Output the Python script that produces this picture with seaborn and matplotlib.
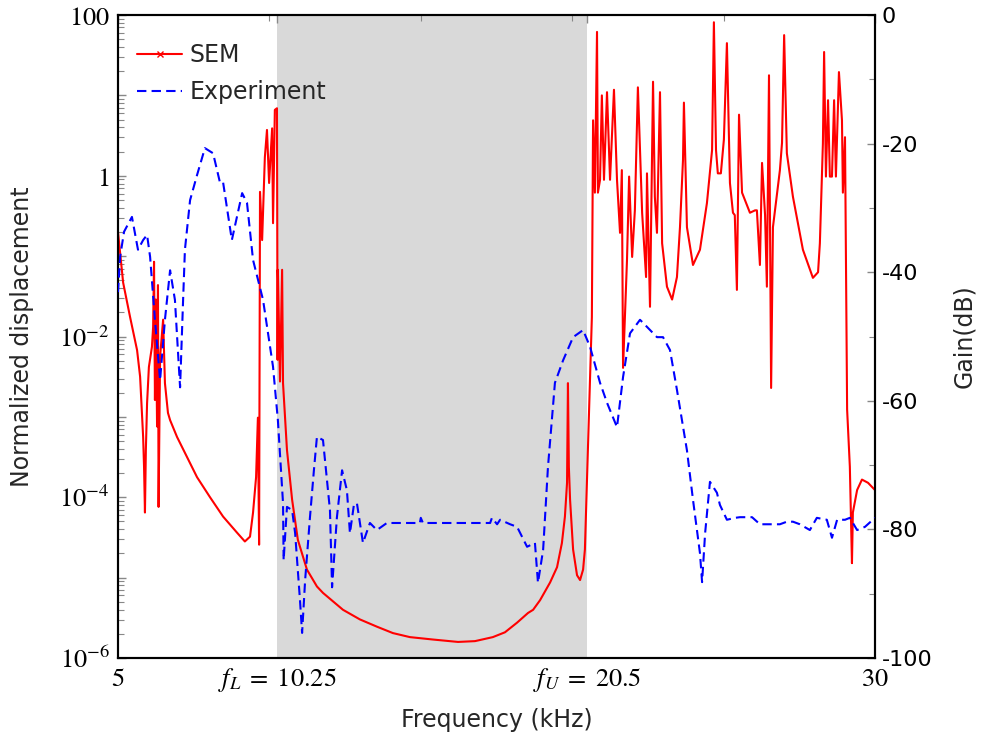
#!/usr/bin/env python3
"""
SEM vs experiment transmission: normalized displacement and gain across frequency
"""

import numpy as np
import pandas as pd
import matplotlib
matplotlib.use('Agg')
import matplotlib.pyplot as plt
import matplotlib.ticker as mticker
from matplotlib.lines import Line2D
import seaborn as sns

# SEM response (kHz, log10 of normalized displacement)
sem_freq = [5.00, 5.17, 5.40, 5.63, 5.73, 5.83, 5.86, 5.89, 5.92, 5.96, 6.02, 6.12, 6.16, 6.19,
            6.22, 6.25, 6.29, 6.32, 6.34, 6.39, 6.49, 6.55, 6.65, 6.72, 6.95, 7.28, 7.61, 8.04,
            8.47, 8.93, 9.19, 9.36, 9.46, 9.56, 9.62, 9.66, 9.69, 9.76, 9.85, 9.92, 9.99, 10.09,
            10.12, 10.18, 10.25, 10.27, 10.28, 10.35, 10.42, 10.45, 10.58, 10.75, 10.94, 11.24,
            11.57, 11.77, 12.43, 12.99, 13.55, 14.08, 14.64, 15.40, 16.23, 16.79, 17.38, 17.78,
            18.18, 18.54, 18.71, 18.94, 19.27, 19.50, 19.66, 19.76, 19.83, 19.86, 19.89, 19.93,
            20.03, 20.16, 20.26, 20.36, 20.42, 20.52, 20.65, 20.69, 20.75, 20.82, 20.85, 20.92,
            20.98, 21.05, 21.15, 21.25, 21.38, 21.48, 21.58, 21.64, 21.68, 21.81, 21.88, 21.98,
            22.07, 22.17, 22.31, 22.44, 22.47, 22.57, 22.67, 22.73, 22.80, 22.90, 22.97, 23.13,
            23.30, 23.46, 23.56, 23.66, 23.69, 23.79, 23.99, 24.22, 24.45, 24.62, 24.68, 24.75,
            24.81, 24.91, 25.01, 25.11, 25.21, 25.31, 25.37, 25.44, 25.51, 25.61, 25.87, 26.04,
            26.10, 26.20, 26.27, 26.37, 26.43, 26.50, 26.57, 26.63, 26.86, 26.93, 27.00, 27.09,
            27.29, 27.62, 27.95, 28.12, 28.18, 28.28, 28.32, 28.38, 28.45, 28.51, 28.58, 28.65,
            28.71, 28.81, 28.91, 28.94, 29.01, 29.08, 29.17, 29.24, 29.27, 29.41, 29.57, 29.77,
            30.00]
sem_log = [-0.70, -1.33, -1.76, -2.17, -2.50, -3.25, -3.62, -4.19, -3.41, -2.83, -2.38, -2.13,
           -1.88, -1.07, -2.79, -1.54, -3.12, -1.36, -4.12, -2.25, -1.79, -2.58, -2.95, -3.04,
           -3.25, -3.50, -3.75, -4.00, -4.24, -4.44, -4.55, -4.49, -4.19, -3.75, -3.01, -4.59,
           -0.20, -0.80, 0.23, 0.57, -0.09, 0.59, -0.59, 0.82, 0.84, -2.29, -1.17, -2.56, -1.17,
           -2.58, -3.41, -4.03, -4.53, -4.90, -5.11, -5.19, -5.40, -5.52, -5.61, -5.69, -5.74,
           -5.77, -5.80, -5.79, -5.74, -5.68, -5.56, -5.44, -5.40, -5.28, -5.06, -4.87, -4.57,
           -4.24, -3.82, -2.58, -3.62, -4.03, -4.65, -4.97, -5.03, -4.90, -4.65, -3.41, -1.76,
           0.69, -0.21, 1.79, -0.21, -0.05, 1.00, -0.05, 1.04, -0.05, 1.07, -0.05, -0.71, 0.07,
           -2.39, -1.05, -0.01, -1.01, -0.43, 1.10, -0.46, -1.26, 0.03, -1.63, 1.17, -0.26,
           -0.71, 1.04, -0.84, -1.38, -1.54, -1.26, -0.64, 0.20, 0.91, -0.64, -1.11, -0.92,
           -0.34, 0.32, 1.91, 0.32, 0.03, 0.03, 0.45, 1.65, -0.09, -0.46, -0.49, -1.42, 0.76,
           -0.21, -0.46, -0.43, -0.43, -1.11, 0.16, -0.49, -1.38, 1.25, -2.64, -0.64, 0.07,
           0.41, 1.75, 0.28, -0.26, -0.92, -1.27, -1.20, -0.84, 0.40, 1.54, -0.01, 0.94, -0.01,
           -0.01, 0.94, -0.01, 1.29, 0.69, -0.21, 0.48, -2.91, -3.62, -4.82, -4.19, -3.91,
           -3.78, -3.82, -3.91]

# Experiment (kHz, gain in dB)
exp_freq = [5.00, 5.07, 5.20, 5.46, 5.66, 5.83, 5.96, 6.06, 6.22, 6.39, 6.55, 6.72, 6.88, 7.05,
            7.15, 7.21, 7.38, 7.61, 7.87, 8.14, 8.37, 8.47, 8.76, 9.10, 9.26, 9.46, 9.79, 10.12,
            10.28, 10.45, 10.47, 10.58, 10.75, 10.85, 11.01, 11.08, 11.18, 11.34, 11.47, 11.57,
            11.77, 12.00, 12.07, 12.23, 12.40, 12.56, 12.66, 12.79, 12.89, 13.09, 13.32, 13.55,
            13.88, 14.97, 15.00, 15.07, 17.29, 17.35, 17.52, 17.62, 17.95, 18.18, 18.51, 18.77,
            18.87, 19.04, 19.20, 19.43, 19.70, 20.03, 20.36, 20.59, 20.92, 21.15, 21.48, 21.68,
            21.91, 22.24, 22.47, 22.80, 23.00, 23.23, 23.46, 23.79, 23.99, 24.22, 24.29, 24.39,
            24.55, 24.78, 24.88, 25.11, 25.38, 25.54, 25.94, 26.20, 26.86, 27.09, 27.29, 27.52,
            27.85, 28.08, 28.41, 28.58, 28.75, 29.01, 29.17, 29.41, 29.67, 30.00]
exp_db = [-43.1, -37.6, -33.7, -31.4, -36.5, -35.0, -34.2, -37.6, -47.4, -56.8, -47.4, -39.7,
          -44.3, -57.9, -44.3, -36.5, -28.8, -24.9, -20.7, -21.5, -26.1, -26.0, -35.0, -27.7,
          -29.2, -38.1, -44.3, -54.7, -63.0, -75.9, -84.8, -76.5, -77.0, -80.6, -91.0, -96.1,
          -87.9, -78.1, -70.8, -65.6, -66.1, -77.0, -89.0, -78.1, -70.8, -73.9, -80.6, -76.2,
          -75.9, -82.1, -79.0, -80.1, -79.0, -79.0, -78.2, -79.0, -79.0, -78.2, -79.2, -78.5,
          -79.2, -79.6, -82.7, -82.1, -88.3, -83.2, -70.3, -57.2, -53.7, -50.1, -49.0, -51.6,
          -57.2, -60.3, -64.1, -56.3, -49.5, -47.4, -48.5, -50.1, -50.1, -52.1, -58.3, -67.7,
          -75.4, -83.7, -88.2, -80.6, -72.6, -74.3, -76.2, -78.5, -78.2, -78.1, -78.1, -79.2,
          -79.2, -78.8, -78.8, -79.2, -80.1, -78.2, -78.5, -81.3, -78.5, -78.5, -78.2, -80.1,
          -79.6, -78.2]

f_lower, f_upper = 10.25, 20.5

sem = pd.DataFrame({'freq': sem_freq, 'disp': 10.0 ** np.array(sem_log)})
exp = pd.DataFrame({'freq': exp_freq, 'gain': exp_db})

sns.set_theme(style='white')
plt.rcParams['font.family'] = ['DejaVu Sans']
plt.rcParams['mathtext.fontset'] = 'stix'

fig = plt.figure(figsize=(9.85, 7.4), dpi=100)
ax = fig.add_axes([0.1198, 0.1108, 0.7685, 0.8689])
ax2 = ax.twinx()

# Band gap shading
ax.axvspan(f_lower, f_upper, color='#d9d9d9', zorder=0, lw=0)

sns.lineplot(data=sem, x='freq', y='disp', ax=ax, color='red', lw=1.5,
             sort=False, estimator=None, zorder=3)
sns.lineplot(data=exp, x='freq', y='gain', ax=ax2, color='blue', lw=1.5,
             sort=False, estimator=None, zorder=3)
ax2.lines[0].set_dashes([4.5, 2.5])

ax.set_yscale('log')
ax.set_xlim(5, 30)
ax.set_ylim(1e-6, 100)
ax2.set_ylim(-100, 0)

# x ticks
ax.xaxis.set_major_locator(mticker.FixedLocator([5, f_lower, f_upper, 30]))
ax.xaxis.set_major_formatter(mticker.FixedFormatter(
    [r'$5$', r'$f_L\;=\;10.25$', r'$f_U\;=\;20.5$', r'$30$']))
ax.xaxis.set_minor_locator(mticker.FixedLocator([10, 15, 20, 25]))

# left y ticks
ax.yaxis.set_major_locator(mticker.FixedLocator([10.0 ** k for k in range(-6, 3)]))
ylabels = {-6: r'$10^{-6}$', -4: r'$10^{-4}$', -2: r'$10^{-2}$', 0: r'$1$', 2: r'$100$'}
ax.yaxis.set_major_formatter(mticker.FuncFormatter(
    lambda v, p: ylabels.get(int(round(np.log10(v))), '')))
ax.yaxis.set_minor_locator(mticker.LogLocator(base=10, subs=np.arange(2, 10), numticks=20))
ax.yaxis.set_minor_formatter(mticker.NullFormatter())

# right y ticks
ax2.yaxis.set_major_locator(mticker.MultipleLocator(20))
ax2.yaxis.set_minor_locator(mticker.MultipleLocator(10))
ax2.yaxis.set_major_formatter(mticker.FuncFormatter(lambda v, p: f'{v:.0f}'))

for a in (ax, ax2):
    a.tick_params(which='both', direction='in', color='#888888', labelcolor='black')
    a.tick_params(which='major', length=6, width=1)
    a.tick_params(which='minor', length=4, width=0.8)
    for s in a.spines.values():
        s.set_color('black')
        s.set_linewidth(1.5)
ax.tick_params(axis='both', labelsize=19)
ax2.tick_params(axis='y', labelsize=16)
ax.tick_params(axis='x', which='both', top=True, pad=6)
ax.tick_params(axis='y', which='both', left=True, right=False, pad=6)
ax2.tick_params(axis='y', which='both', right=True, left=False, pad=5)

ax.set_xlabel('Frequency (kHz)', fontsize=17, labelpad=10)
ax.set_ylabel('Normalized displacement', fontsize=17, labelpad=18)
ax2.set_ylabel('Gain(dB)', fontsize=17, labelpad=14)

handles = [Line2D([], [], color='red', lw=1.5, marker='x', markersize=5),
           Line2D([], [], color='blue', lw=1.5, dashes=[4.5, 2.5])]
leg = ax2.legend(handles, ['SEM', 'Experiment'], loc='upper left', frameon=False,
                 bbox_to_anchor=(-0.012, 1.0), fontsize=17, handlelength=1.9,
                 borderaxespad=0.9, labelspacing=0.55, handletextpad=0.3, borderpad=0.3)

ax.set_zorder(ax2.get_zorder() - 1)
ax2.patch.set_visible(False)

fig.savefig('out.png', dpi=100)
